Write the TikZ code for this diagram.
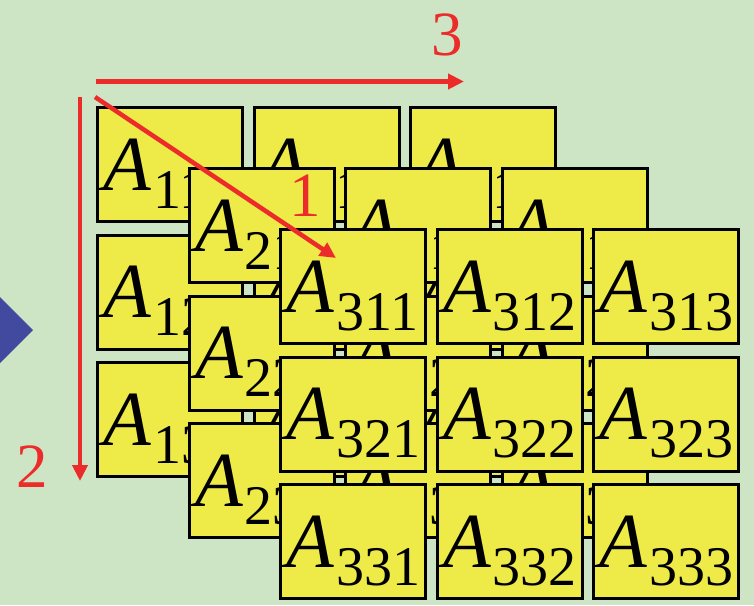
\documentclass[tikz,border=0pt]{standalone}
\usepackage{fontspec}
\setmainfont{Liberation Serif}
\usetikzlibrary{arrows.meta}
\definecolor{bggreen}{HTML}{CDE4C5}
\definecolor{cellyellow}{HTML}{EEEA48}
\definecolor{axisred}{HTML}{EC2B2B}
\definecolor{navblue}{HTML}{414A9E}
\newcommand{\Aidx}[1]{\textit{A}\kern2pt\raisebox{-18pt}{\fontsize{56}{56}\selectfont #1}}

\begin{document}
\begin{tikzpicture}[x=1pt,y=-1pt,
 cell/.style={draw=black,fill=cellyellow,line width=3pt,outer sep=0pt,anchor=north west,minimum width=145pt,minimum height=114pt,inner xsep=6pt,inner ysep=0pt,text width=133pt,text height=82.5pt,text depth=31.5pt,align=left,font=\fontsize{78}{78}\selectfont},
 axis/.style={draw=axisred,line width=4.5pt,-{Triangle[length=16pt,width=15pt]}},
 axlabel/.style={text=axisred,inner sep=0pt,font=\fontsize{63}{63}\selectfont}]
\fill[bggreen] (0,0) rectangle (754,605);
\useasboundingbox (0,0) rectangle (754,605);
\fill[navblue] (0,297) -- (33,330) -- (0,363) -- cycle;

% three layers of 3x3 blocks, back to front
\foreach \l in {1,2,3}
 \foreach \r in {1,2,3}
  \foreach \c in {1,2,3}
   \node[cell] (a\l\r\c) at ({97.5+(\l-1)*91.5+(\c-1)*156.5},{107.5+(\l-1)*61+(\r-1)*127.5}) {\Aidx{\l\r\c}};

% index directions
\coordinate (h0) at (96,81.5);  \coordinate (h1) at (464,81.5);
\coordinate (v0) at (80,97);    \coordinate (v1) at (80,481);
\coordinate (d0) at (95,97);    \coordinate (d1) at (336,258);
\draw[axis] (h0) -- (h1);
\draw[axis] (v0) -- (v1);
\draw[axis] (d0) -- (d1);
\node[axlabel] (lab3) at (447,35) {3};
\node[axlabel] (lab2) at (32,467) {2};
\node[axlabel] (lab1) at (305,196) {1};
\end{tikzpicture}
\end{document}
